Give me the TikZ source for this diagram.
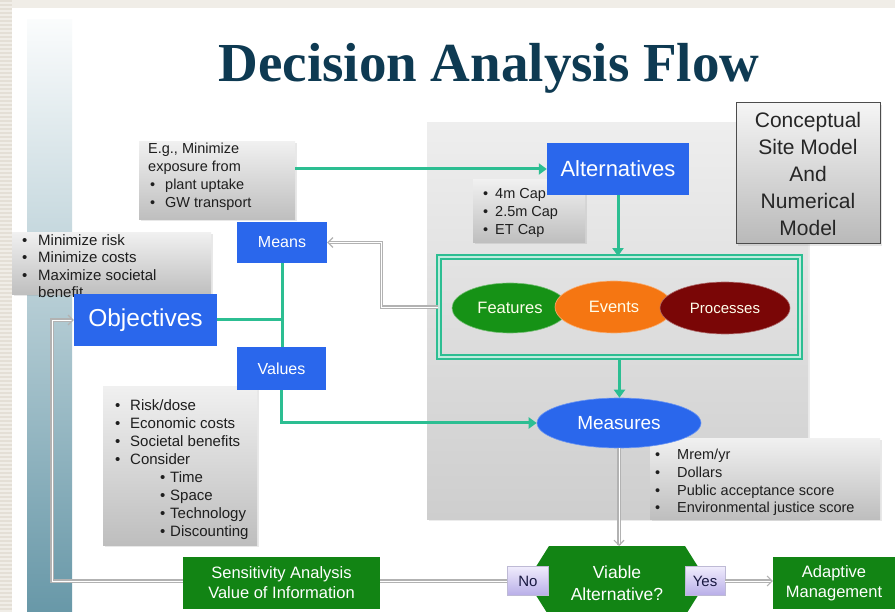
\documentclass[tikz,border=0pt]{standalone}
\usepackage{fontspec}
\setmainfont{Liberation Sans}
\newfontfamily\titlefont{Liberation Serif}
\usetikzlibrary{arrows.meta,shadows,calc,shapes.geometric}

\definecolor{slideblue}{RGB}{42,103,236}
\definecolor{boxgreen}{RGB}{18,132,20}
\definecolor{flowteal}{RGB}{44,190,146}
\definecolor{titlenavy}{RGB}{14,58,82}
\definecolor{beige}{RGB}{240,237,231}
\definecolor{beigedark}{RGB}{228,223,214}
\definecolor{barteal}{RGB}{104,152,168}
\definecolor{barmid}{RGB}{190,207,215}
\definecolor{featgreen}{RGB}{22,146,22}
\definecolor{evorange}{RGB}{245,118,18}
\definecolor{procred}{RGB}{122,6,6}
\definecolor{lavtop}{RGB}{240,236,252}
\definecolor{lavbot}{RGB}{184,174,232}
\definecolor{panelhi}{RGB}{238,238,238}
\definecolor{panello}{RGB}{206,206,206}
\definecolor{notehi}{RGB}{240,240,240}
\definecolor{notelo}{RGB}{190,190,190}
\definecolor{notetext}{RGB}{30,30,30}
\definecolor{linkgray}{RGB}{178,178,178}
\definecolor{labeltext}{RGB}{24,24,64}

% bullet with a fixed hanging width
\newcommand{\bul}[1][17pt]{\makebox[#1][l]{\hspace{2pt}•}}

\tikzset{
  bluebox/.style={rectangle, fill=slideblue, text=white, inner sep=0pt, align=center},
  greenbox/.style={rectangle, fill=boxgreen, text=white, inner sep=0pt, align=center,
    font=\fontsize{16.5}{20}\selectfont},
  notebox/.style={rectangle, inner sep=0pt, top color=notehi, bottom color=notelo,
    drop shadow={opacity=0.18, shadow xshift=1.5pt, shadow yshift=-1.5pt}},
  notetext/.style={inner sep=0pt, anchor=north west, align=left, text=notetext,
    font=\fontsize{14.5}{17.8}\selectfont},
  fepoval/.style={ellipse, inner sep=0pt, text=white!92!yellow},
  flowline/.style={draw=flowteal, line width=3pt},
  flow/.style={flowline, -{Triangle[length=8pt,width=11pt]}},
  link/.style={draw=linkgray, line width=1.1pt, double=white, double distance=0.9pt,
    -{Straight Barb[length=5pt,width=10pt]}},
  answer/.style={rectangle, inner sep=0pt, top color=lavtop, bottom color=lavbot,
    draw=lavbot!80!black!60, line width=0.4pt, text=labeltext,
    font=\fontsize{15}{18}\selectfont, minimum width=41pt, minimum height=29pt}
}

\begin{document}
\begin{tikzpicture}[x=1pt,y=-1pt]
\useasboundingbox (0,0) rectangle (895,612);
\clip (0,0) rectangle (895,612);

% slide frame and left accent bar
\fill[beige] (0,0) rectangle (895,612);
\foreach \yy in {0,4,...,612} \fill[beigedark] (0,\yy) rectangle (12,\yy+1.6);
\fill[white] (12,8) rectangle (895,612);
\shade[top color=white!97!barteal, middle color=barmid, bottom color=barteal]
  (27,20) rectangle (72,612);

% title
\node[font=\titlefont\bfseries\fontsize{55}{60}\selectfont, text=titlenavy, anchor=base]
  (title) at (489,82) {Decision Analysis Flow};

% grey panel behind the model part of the flow
\node[rectangle, inner sep=0pt, minimum width=381pt, minimum height=396pt,
  top color=panelhi, bottom color=panello,
  drop shadow={opacity=0.15, shadow xshift=2pt, shadow yshift=-2pt}]
  (panel) at (617.5,321) {};

% conceptual model box
\node[rectangle, inner sep=0pt, minimum width=144pt, minimum height=141pt,
  top color=white!92!gray, bottom color=gray!55, draw=black!70, line width=1pt,
  align=center, text=black!85, font=\fontsize{21}{27}\selectfont,
  drop shadow={opacity=0.2, shadow xshift=2pt, shadow yshift=-2pt}]
  (csm) at (808,173.5) {Conceptual\\Site Model\\And\\Numerical\\Model};

% note boxes
\node[notebox, minimum width=156pt, minimum height=78pt] (egbox) at (217,181) {};
\node[notetext] (egtext) at (148,143)
  {E.g., Minimize\\exposure from\\\bul plant uptake\\\bul GW transport};

\node[notebox, minimum width=199pt, minimum height=62pt] (objbox) at (111.5,264) {};
\node[notetext, font=\fontsize{15}{17.5}\selectfont] (objtext) at (20,234)
  {\bul[18pt]Minimize risk\\\bul[18pt]Minimize costs\\\bul[18pt]Maximize societal\\\hspace*{18pt}benefit};

\node[notebox, minimum width=112pt, minimum height=63pt] (capbox) at (529,211.5) {};
\node[notetext, font=\fontsize{14.5}{18}\selectfont] (captext) at (481,188)
  {\bul[14pt]4m Cap\\\bul[14pt]2.5m Cap\\\bul[14pt]ET Cap};

\node[notebox, minimum width=154pt, minimum height=158pt] (valbox) at (180,466) {};
\node[notetext, font=\fontsize{15}{18}\selectfont] (valtext) at (113,399)
  {\bul Risk/dose\\\bul Economic costs\\\bul Societal benefits\\\bul Consider\\
   \hspace*{47pt}\makebox[10pt][l]{•}Time\\
   \hspace*{47pt}\makebox[10pt][l]{•}Space\\
   \hspace*{47pt}\makebox[10pt][l]{•}Technology\\
   \hspace*{47pt}\makebox[10pt][l]{•}Discounting};

\node[notebox, minimum width=230pt, minimum height=80pt] (measbox) at (765,479) {};
\node[notetext, font=\fontsize{14.5}{17.7}\selectfont] (meastext) at (653,449)
  {\bul[24pt]Mrem/yr\\\bul[24pt]Dollars\\\bul[24pt]Public acceptance score\\\bul[24pt]Environmental justice score};

% main flow nodes
\node[bluebox, minimum width=142pt, minimum height=52pt, font=\fontsize{22}{26}\selectfont]
  (alt) at (618,169) {Alternatives};
\node[bluebox, minimum width=90pt, minimum height=41pt, font=\fontsize{16}{19}\selectfont]
  (means) at (282,242.5) {Means};
\node[bluebox, minimum width=143pt, minimum height=52pt, font=\fontsize{24.5}{28}\selectfont]
  (obj) at (145.5,320) {Objectives};
\node[bluebox, minimum width=89pt, minimum height=43pt, font=\fontsize{16}{19}\selectfont]
  (values) at (281.5,368.5) {Values};

% features, events and processes
\node[rectangle, inner sep=0pt, minimum width=361pt, minimum height=100pt,
  draw=flowteal, line width=1.8pt, double=flowteal!30!white, double distance=1.5pt]
  (fep) at (619.5,307) {};
\node[fepoval, fill=featgreen, draw=featgreen!60!white, line width=0.6pt,
  minimum width=116pt, minimum height=50pt, font=\fontsize{16.5}{20}\selectfont]
  (feat) at (510,308) {Features};
\node[fepoval, fill=evorange, draw=evorange!60!white, line width=0.6pt,
  minimum width=118pt, minimum height=52pt, font=\fontsize{16.5}{20}\selectfont]
  (events) at (614,307) {Events};
\node[fepoval, fill=procred, draw=procred!60!white, line width=0.6pt,
  minimum width=130pt, minimum height=52pt, font=\fontsize{15}{18}\selectfont]
  (proc) at (725,308) {Processes};

\node[ellipse, inner sep=0pt, fill=slideblue, draw=slideblue!70!white, line width=0.6pt,
  text=white, minimum width=164pt, minimum height=50pt, font=\fontsize{19}{22}\selectfont]
  (meas) at (619,423) {Measures};

% decision hexagon
\coordinate (viabletop) at (617,546);
\fill[boxgreen] (549,546) -- (685,546) -- (707,581) -- (685,616) -- (549,616) -- (527,581) -- cycle;
\node[text=white, align=center, inner sep=0pt, font=\fontsize{17.5}{22}\selectfont]
  (viable) at (617,583) {Viable\\Alternative?};
\node[answer] (nolab) at (528,581) {No};
\node[answer, minimum width=40pt] (yeslab) at (705,581) {Yes};

\node[greenbox, minimum width=122pt, minimum height=52pt] (adapt) at (834,583)
  {Adaptive\\Management};

% connectors
\draw[flow] (egbox.east |- alt.west) -- (alt.west);
\draw[flow] (alt.south) -- (alt.south |- fep.north);
\draw[flow] (fep.south) -- (fep.south |- meas.north);
\draw[flowline] (means.south) -- (means.south |- values.north);
\draw[flowline] (obj.east) -- (obj.east -| means.south);
\draw[flow] (values.south) |- (meas.west);

\draw[link] (fep.west) -- ++(-57,0) |- (means.east);
\draw[link] (meas.south) -- (meas.south |- viabletop);
\draw[link] (yeslab.east) -- (yeslab.east -| adapt.west);
\coordinate (loopx) at (52,0);
\draw[link] (nolab.west) -- (nolab.west -| loopx) -- (loopx |- obj.west) -- (obj.west);

% sits over the feedback line
\node[greenbox, minimum width=197pt, minimum height=52pt] (sens) at (281.5,583)
  {Sensitivity Analysis\\Value of Information};
\end{tikzpicture}
\end{document}
